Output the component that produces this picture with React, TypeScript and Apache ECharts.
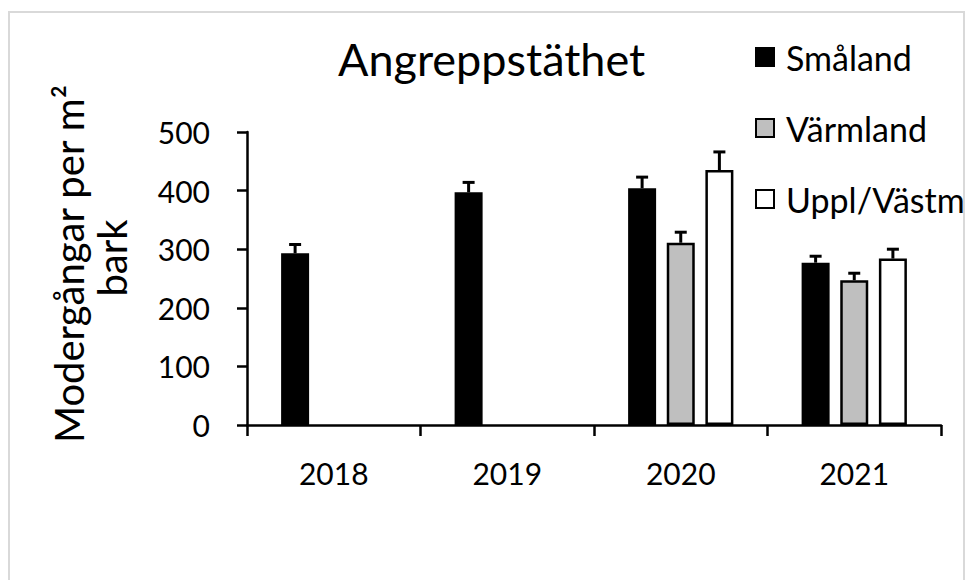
import React, { useEffect, useRef } from "react";
import * as echarts from "echarts";

const categories = ["2018", "2019", "2020", "2021"];
const seriesNames = ["Småland", "Värmland", "Uppl/Västm"];
const smaland: (number | null)[] = [293, 397, 404, 277];
const smalandErr: (number | null)[] = [15, 17, 19, 11];
const varmland: (number | null)[] = [null, null, 311, 247];
const varmlandErr: (number | null)[] = [null, null, 18, 12];
const uppl: (number | null)[] = [null, null, 435, 284];
const upplErr: (number | null)[] = [null, null, 31, 16];
const yMin = 0;
const yMax = 500;
const yStep = 100;
const chartTitle = "Angreppstäthet";
const yTitleLine1 = "Modergångar per m²";
const yTitleLine2 = "bark";

const FONT = "Lato";
const fills = ["#000000", "#bfbfbf", "#ffffff"];
const BAR_W = 28;
const BAR_GAP = 0.38;

export default function App() {
  const ref = useRef<HTMLDivElement>(null);
  useEffect(() => {
    if (!ref.current) return;
    const chart = echarts.init(ref.current, undefined, { renderer: "svg" });
    const values = [smaland, varmland, uppl];
    const errs = [smalandErr, varmlandErr, upplErr];
    const step = BAR_W * (1 + BAR_GAP);

    const barSeries = seriesNames.map((name, i) => ({
      name,
      type: "bar",
      data: values[i],
      barWidth: BAR_W,
      barGap: `${BAR_GAP * 100}%`,
      itemStyle: { color: fills[i], borderColor: "#000", borderWidth: 2.5 },
      z: 2,
    }));

    const errSeries = seriesNames.map((name, i) => {
      const data: number[][] = [];
      values[i].forEach((v, k) => {
        const e = errs[i][k];
        if (v != null && e != null) data.push([k, v, v + e]);
      });
      const off = (i - 1) * step;
      return {
        name: name + " err",
        type: "custom",
        data,
        z: 3,
        renderItem: (params: any, api: any) => {
          const p1 = api.coord([api.value(0), api.value(1)]);
          const p2 = api.coord([api.value(0), api.value(2)]);
          const x = p1[0] + off;
          return {
            type: "group",
            children: [
              { type: "line", shape: { x1: x, y1: p1[1], x2: x, y2: p2[1] }, style: { stroke: "#000", lineWidth: 3 } },
              { type: "line", shape: { x1: x - 6, y1: p2[1], x2: x + 6, y2: p2[1] }, style: { stroke: "#000", lineWidth: 3 } },
            ],
          };
        },
      };
    });

    chart.setOption({
      animation: false,
      backgroundColor: "#ffffff",
      title: {
        text: chartTitle,
        left: 338,
        top: 36,
        padding: 0,
        textStyle: { fontFamily: FONT, fontSize: 45, fontWeight: "normal", color: "#000" },
      },
      legend: {
        data: seriesNames,
        orient: "vertical",
        left: 755,
        top: 40,
        padding: 0,
        itemWidth: 18,
        itemHeight: 18,
        itemGap: 37,
        icon: "rect",
        textStyle: { fontFamily: FONT, fontSize: 34, color: "#000", lineHeight: 32, padding: [0, 0, 0, 7] },
      },
      grid: { left: 247, right: 29, top: 132, bottom: 155 },
      xAxis: {
        type: "category",
        data: categories,
        axisLine: { lineStyle: { color: "#000", width: 2.5 } },
        axisTick: { show: true, length: 11, lineStyle: { color: "#000", width: 2.5 } },
        axisLabel: { fontFamily: FONT, fontSize: 30, color: "#000", margin: 33, lineHeight: 30 },
      },
      yAxis: {
        type: "value",
        min: yMin,
        max: yMax,
        interval: yStep,
        splitLine: { show: false },
        axisLine: { show: true, lineStyle: { color: "#000", width: 2.5 } },
        axisTick: { show: true, length: 10, lineStyle: { color: "#000", width: 2.5 } },
        axisLabel: { fontFamily: FONT, fontSize: 30, color: "#000", margin: 37 },
      },
      graphic: [
        {
          type: "rect",
          shape: { x: 9, y: 12, width: 955, height: 600 },
          style: { fill: "none", stroke: "#d9d9d9", lineWidth: 2 },
          z: -10,
          silent: true,
        },
        {
          type: "text",
          x: 69,
          y: 264,
          rotation: Math.PI / 2,
          style: {
            text: yTitleLine1,
            fontFamily: FONT,
            fontSize: 40,
            fill: "#000",
            align: "center",
            verticalAlign: "middle",
          },
        },
        {
          type: "text",
          x: 112,
          y: 258,
          rotation: Math.PI / 2,
          style: {
            text: yTitleLine2,
            fontFamily: FONT,
            fontSize: 40,
            fill: "#000",
            align: "center",
            verticalAlign: "middle",
          },
        },
      ],
      series: [...barSeries, ...errSeries],
    });
    return () => chart.dispose();
  }, []);
  return (
    <div
      ref={ref}
      style={{ position: "fixed", left: 0, top: 0, width: 970, height: 580, background: "#fff" }}
    />
  );
}
